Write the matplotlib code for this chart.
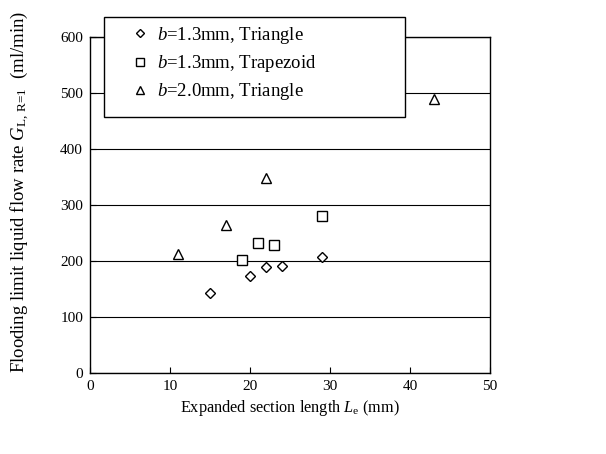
import matplotlib.pyplot as plt
from matplotlib.patches import Rectangle

plt.rcParams["font.family"] = "Liberation Serif"
plt.rcParams["mathtext.fontset"] = "custom"
plt.rcParams["mathtext.rm"] = "Liberation Serif"
plt.rcParams["mathtext.it"] = "Liberation Serif:italic"

# b=1.3mm, Triangle
x_tri13 = [15, 20, 22, 24, 29]
y_tri13 = [142, 174, 190, 191, 208]
# b=1.3mm, Trapezoid
x_trap13 = [19, 21, 23, 29]
y_trap13 = [202, 233, 228, 281]
# b=2.0mm, Triangle
x_tri20 = [11, 17, 22, 43]
y_tri20 = [212, 265, 348, 490]

W, H = 606, 454
fig = plt.figure(figsize=(W / 100, H / 100), dpi=100)
ax = fig.add_axes([90 / W, 1 - 373 / H, 400 / W, 336 / H])

ax.set_axisbelow(True)
ax.yaxis.grid(True, color="black", linewidth=0.8)

style = dict(linestyle="none", markerfacecolor="white", markeredgecolor="black",
             markeredgewidth=1)
ax.plot(x_tri13, y_tri13, marker="D", markersize=5, label="$b$=1.3mm, Triangle", **style)
ax.plot(x_trap13, y_trap13, marker="s", markersize=7, label="$b$=1.3mm, Trapezoid", **style)
ax.plot(x_tri20, y_tri20, marker="^", markersize=7, label="$b$=2.0mm, Triangle", **style)

ax.set_xlim(0, 50)
ax.set_ylim(0, 600)
ax.set_xticks(range(0, 51, 10))
ax.set_yticks(range(0, 601, 100))
ax.tick_params(direction="in", labelsize=11, length=4, width=0.8, pad=5)
for s in ax.spines.values():
    s.set_linewidth(1)

ax.set_xlabel("Expanded section length $L_\\mathrm{e}$ (mm)", fontsize=11.7, labelpad=4)
ax.set_ylabel("Flooding limit liquid flow rate $G_\\mathrm{L,\\,R\\!=\\!1}$  (ml/min)",
              fontsize=13.5, labelpad=21)
ax.yaxis.label.set_y(0.539)

# legend box (drawn separately so it can stick out above the axes)
box = Rectangle((104 / W, 1 - 117 / H), 301 / W, 100 / H, transform=fig.transFigure,
                facecolor="white", edgecolor="black", linewidth=1, zorder=4,
                clip_on=False)
ax.add_patch(box)
leg = ax.legend(loc="upper left", bbox_to_anchor=(129 / W, 1 - 25 / H),
                bbox_transform=fig.transFigure, fontsize=13.5, frameon=False,
                borderaxespad=0, borderpad=0, handlelength=1.15,
                handletextpad=0.35, labelspacing=0.38, markerscale=0.75)
leg.set_zorder(5)

fig.savefig("out.png", dpi=100)
